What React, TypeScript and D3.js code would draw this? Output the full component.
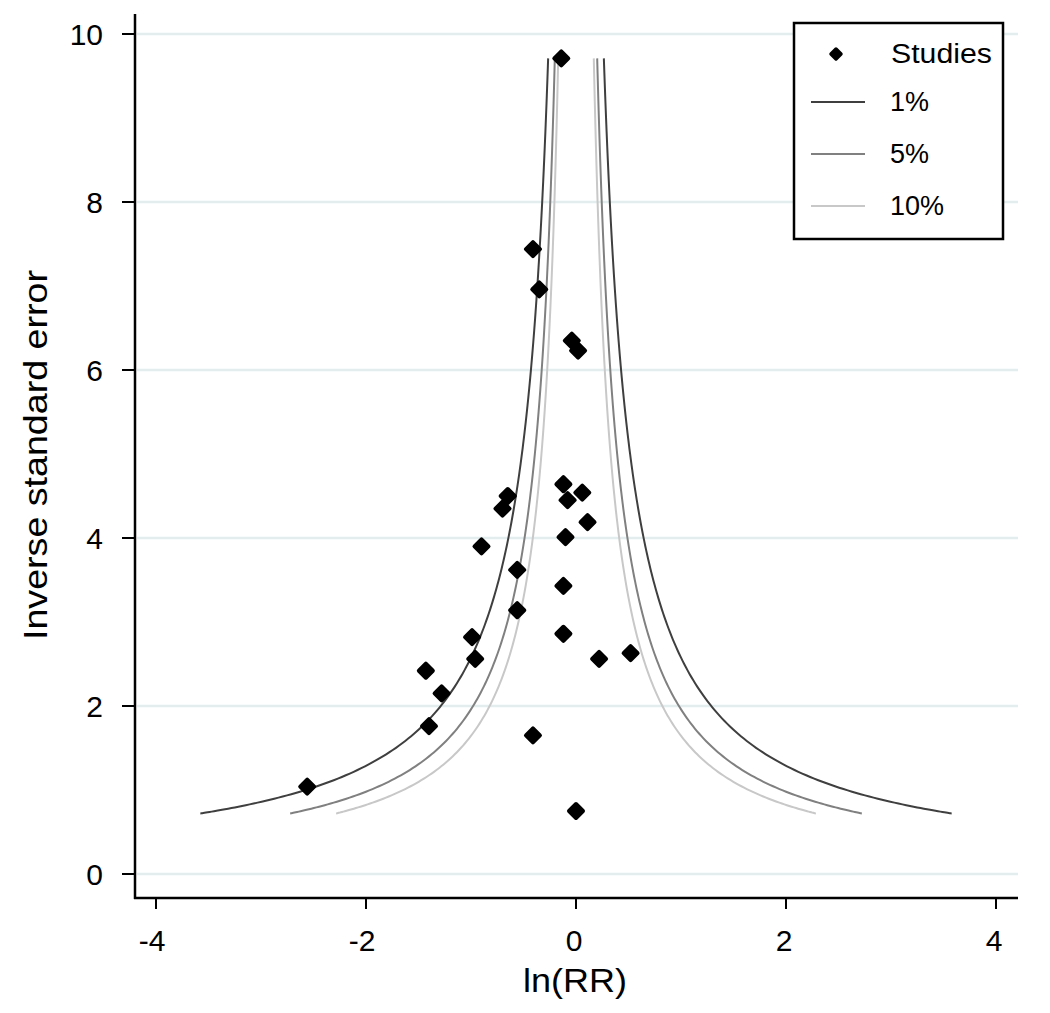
import React from "react";
import * as d3 from "d3";

// ---- data ----
const lnRR = [-0.14, -0.41, -0.35, -0.04, 0.02, -0.65, -0.70, -0.12, -0.08, 0.06, 0.11, -0.10, -0.90, -0.56, -0.12, -0.56, -0.12, 0.22, 0.52, -0.41, 0.0, -0.99, -0.96, -1.43, -1.28, -1.40, -2.56];
const invSE = [9.71, 7.44, 6.96, 6.35, 6.23, 4.50, 4.35, 4.64, 4.45, 4.54, 4.19, 4.01, 3.90, 3.62, 3.43, 3.14, 2.86, 2.56, 2.63, 1.65, 0.75, 2.82, 2.56, 2.42, 2.15, 1.76, 1.04];

const contourLabels = ["1%", "5%", "10%"];
const contourZ = [2.576, 1.96, 1.645];
const contourColors = ["#3f3f3f", "#808080", "#c8c8c8"];
const precisionRange = [0.72, 9.71];

const xTicks = [-4, -2, 0, 2, 4];
const yTicks = [0, 2, 4, 6, 8, 10];

const FONT = "'Liberation Sans', Arial, sans-serif";

export default function App() {
  const x = d3.scaleLinear().domain([-4, 4]).range([156, 996]);
  const y = d3.scaleLinear().domain([0, 10]).range([874, 34]);
  const left = 135, right = 1018, bottom = 898, top = 14;

  const ys = d3.range(0, 201).map((i) => precisionRange[0] + (precisionRange[1] - precisionRange[0]) * Math.pow(i / 200, 2));
  const line = d3.line<[number, number]>().x((d) => x(d[0])).y((d) => y(d[1]));

  const diamond = (cx: number, cy: number, r: number) =>
    `M${cx},${cy - r}L${cx + r},${cy}L${cx},${cy + r}L${cx - r},${cy}Z`;

  return (
    <svg width={1050} height={1013} style={{ position: "absolute", left: 0, top: 0, background: "#fff" }}>
      <rect x={0} y={0} width={1050} height={1013} fill="#fff" />
      {/* grid */}
      {yTicks.map((t) => (
        <line key={"g" + t} x1={left + 2} x2={right} y1={y(t)} y2={y(t)} stroke="#e4eded" strokeWidth={2.5} />
      ))}
      {/* contours */}
      {contourZ.map((z, i) => (
        <g key={"c" + i}>
          <path d={line(ys.map((v) => [-z / v, v] as [number, number])) || ""} fill="none" stroke={contourColors[i]} strokeWidth={2} />
          <path d={line(ys.map((v) => [z / v, v] as [number, number])) || ""} fill="none" stroke={contourColors[i]} strokeWidth={2} />
        </g>
      ))}
      {/* points */}
      {lnRR.map((v, i) => (
        <path key={"p" + i} d={diamond(x(v), y(invSE[i]), 7)} fill="#000" stroke="#000" strokeWidth={4} strokeLinejoin="round" />
      ))}
      {/* axes */}
      <line x1={left} x2={left} y1={top} y2={bottom + 1} stroke="#000" strokeWidth={2.5} />
      <line x1={left - 1} x2={right} y1={bottom} y2={bottom} stroke="#000" strokeWidth={2.5} />
      {yTicks.map((t) => (
        <g key={"yt" + t}>
          <line x1={122} x2={left} y1={y(t)} y2={y(t)} stroke="#000" strokeWidth={2} />
          <text x={103} y={y(t) + 11} textAnchor="end" fontFamily={FONT} fontSize={30} fill="#000">{t}</text>
        </g>
      ))}
      {xTicks.map((t) => (
        <g key={"xt" + t}>
          <line x1={x(t)} x2={x(t)} y1={bottom} y2={909} stroke="#000" strokeWidth={2} />
          <text x={x(t) - (t < 0 ? 4 : 2)} y={951} textAnchor="middle" fontFamily={FONT} fontSize={30} fill="#000">{t}</text>
        </g>
      ))}
      {/* axis titles */}
      <text x={575} y={992} textAnchor="middle" fontFamily={FONT} fontSize={34} fill="#000" textLength={104} lengthAdjust="spacingAndGlyphs">ln(RR)</text>
      <text transform="translate(47,455) rotate(-90)" textAnchor="middle" fontFamily={FONT} fontSize={33} fill="#000" textLength={370} lengthAdjust="spacingAndGlyphs">Inverse standard error</text>
      {/* legend */}
      <rect x={794} y={23} width={209} height={216} fill="#fff" stroke="#000" strokeWidth={2.5} />
      <path d={diamond(836, 54, 5)} fill="#000" stroke="#000" strokeWidth={3.5} strokeLinejoin="round" />
      <text x={891} y={63} fontFamily={FONT} fontSize={27} fill="#000" textLength={101} lengthAdjust="spacingAndGlyphs">Studies</text>
      {contourLabels.map((lab, i) => (
        <g key={"l" + i}>
          <line x1={811} x2={865} y1={102 + i * 52} y2={102 + i * 52} stroke={contourColors[i]} strokeWidth={2} />
          <text x={890} y={111 + i * 52} fontFamily={FONT} fontSize={27} fill="#000">{lab}</text>
        </g>
      ))}
    </svg>
  );
}
